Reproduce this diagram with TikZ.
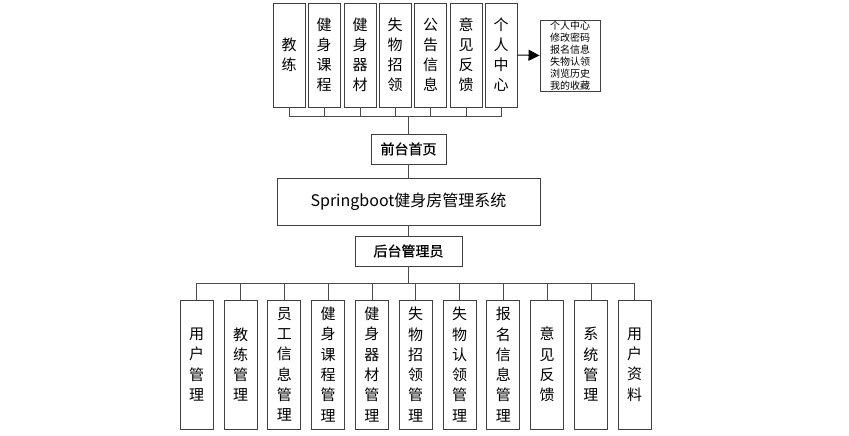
\documentclass[tikz,border=0pt]{standalone}
\usepackage{fontspec}
\setmainfont{Noto Sans CJK SC}
\newfontfamily\headfont[FakeBold=0.8]{Noto Sans CJK SC}
\usepackage{tikz}
\usetikzlibrary{arrows.meta}

\tikzset{
	box/.style={draw=black!75,line width=0.9pt,inner sep=0pt,align=center},
	topbox/.style={box,minimum width=32pt,minimum height=104pt,font=\fontsize{15}{20}\selectfont},
	botbox/.style={box,minimum width=33pt,minimum height=129pt,font=\fontsize{15}{20.3}\selectfont},
	link/.style={draw=black!70,line width=0.8pt}
}

\begin{document}
\begin{tikzpicture}[x=1pt,y=-1pt]
		\useasboundingbox (0,0) rectangle (849,436);
		% front end
		\node[topbox] (t1) at (289,55) {教\\练};
		\node[topbox] (t2) at (324,55) {健\\身\\课\\程};
		\node[topbox] (t3) at (360,55) {健\\身\\器\\材};
		\node[topbox] (t4) at (395,55) {失\\物\\招\\领};
		\node[topbox] (t5) at (430.5,55) {公\\告\\信\\息};
		\node[topbox] (t6) at (466,55) {意\\见\\反\\馈};
		\node[topbox] (t7) at (501,55) {个\\人\\中\\心};
		\node[box,minimum width=60pt,minimum height=71pt,align=left,
		font=\fontsize{10}{12.1}\selectfont] (side) at (570,55.5) {个人中心\\修改密码\\报名信息\\失物认领\\浏览历史\\我的收藏};
		\draw[line width=1pt,-{Triangle[length=11pt,width=11pt]}] (t7.east) -- (side.west);
		\node[box,minimum width=75pt,minimum height=30pt,font=\fontsize{14}{16}\headfont] (front) at (408.5,149) {前台首页};
		\node[box,minimum width=263pt,minimum height=47pt,font=\fontsize{16}{18}\selectfont] (sys) at (408.5,201.5) {Springboot健身房管理系统};
		\node[box,minimum width=107pt,minimum height=30pt,font=\fontsize{14}{16}\headfont] (back) at (408.5,251) {后台管理员};
		\coordinate (fbus) at (408.5,116);
		\draw[link] (t1.south) |- (fbus);
		\draw[link] (t2.south) |- (fbus);
		\draw[link] (t3.south) |- (fbus);
		\draw[link] (t4.south) |- (fbus);
		\draw[link] (t5.south) |- (fbus);
		\draw[link] (t6.south) |- (fbus);
		\draw[link] (t7.south) |- (fbus);
		\draw[link] (fbus) -- (front.north);
		\draw[link] (front.south) -- (sys.north);
		\draw[link] (sys.south) -- (back.north);
		% back end
		\node[botbox] (b1) at (196.7,364.5) {用\\户\\管\\理};
		\node[botbox] (b2) at (240.5,364.5) {教\\练\\管\\理};
		\node[botbox] (b3) at (284.3,364.5) {员\\工\\信\\息\\管\\理};
		\node[botbox] (b4) at (328.1,364.5) {健\\身\\课\\程\\管\\理};
		\node[botbox] (b5) at (371.9,364.5) {健\\身\\器\\材\\管\\理};
		\node[botbox] (b6) at (415.7,364.5) {失\\物\\招\\领\\管\\理};
		\node[botbox] (b7) at (459.5,364.5) {失\\物\\认\\领\\管\\理};
		\node[botbox] (b8) at (503.3,364.5) {报\\名\\信\\息\\管\\理};
		\node[botbox] (b9) at (547.1,364.5) {意\\见\\反\\馈};
		\node[botbox] (b10) at (590.9,364.5) {系\\统\\管\\理};
		\node[botbox] (b11) at (634.7,364.5) {用\\户\\资\\料};
		\coordinate (bbus) at (408.5,283);
		\draw[link] (back.south) -- (bbus);
		\draw[link] (b1.north) |- (bbus);
		\draw[link] (b2.north) |- (bbus);
		\draw[link] (b3.north) |- (bbus);
		\draw[link] (b4.north) |- (bbus);
		\draw[link] (b5.north) |- (bbus);
		\draw[link] (b6.north) |- (bbus);
		\draw[link] (b7.north) |- (bbus);
		\draw[link] (b8.north) |- (bbus);
		\draw[link] (b9.north) |- (bbus);
		\draw[link] (b10.north) |- (bbus);
		\draw[link] (b11.north) |- (bbus);
	\end{tikzpicture}
\end{document}
